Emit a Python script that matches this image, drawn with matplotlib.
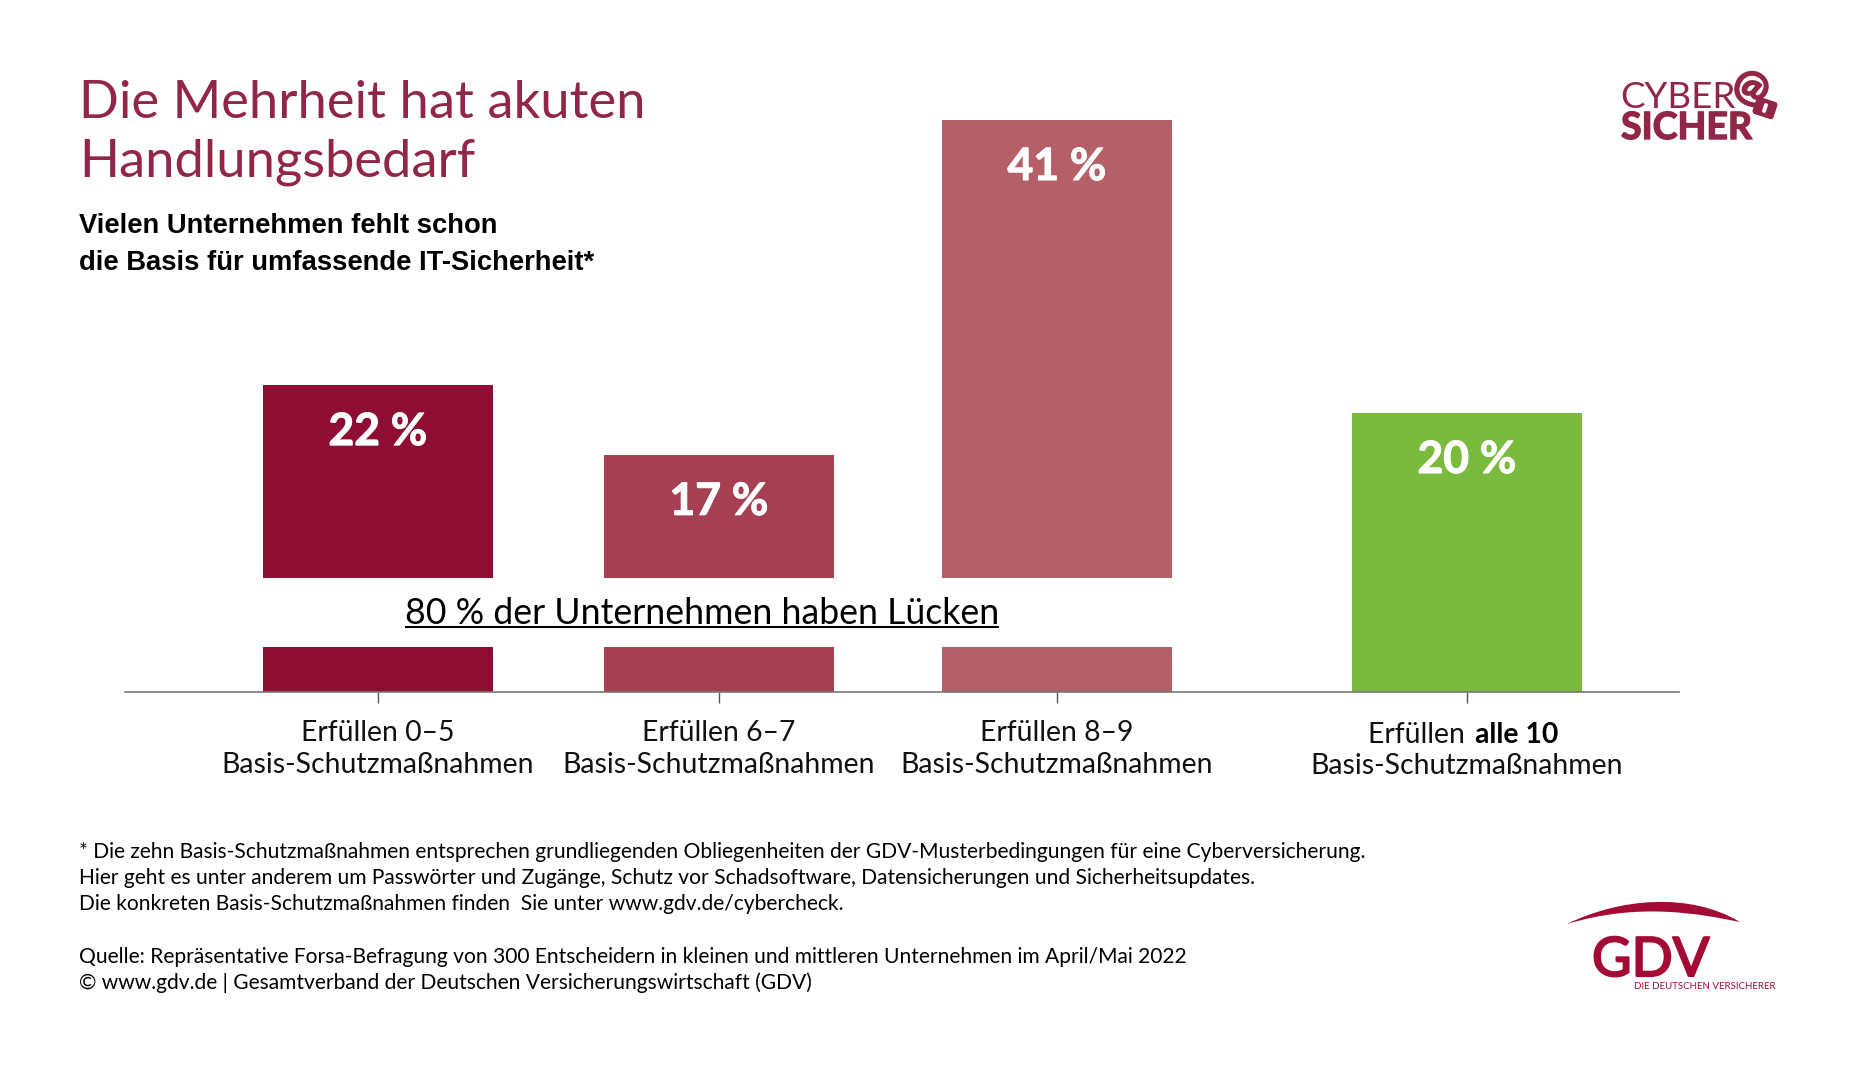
import matplotlib
matplotlib.use("Agg")
import matplotlib.pyplot as plt
import matplotlib.patheffects as pe
from matplotlib.patches import PathPatch, FancyBboxPatch
from matplotlib.path import Path
from matplotlib.transforms import Affine2D

W, H = 1850, 1070
RED = "#922647"
GDV_RED = "#a30b35"

categories = ["Erfüllen 0–5", "Erfüllen 6–7", "Erfüllen 8–9", "Erfüllen alle 10"]
measure_label = "Basis-Schutzmaßnahmen"
shares = [22, 17, 41, 20]
bar_colors = ["#8f0c33", "#a63f52", "#b55f68", "#7aba3c"]
value_labels = ["22 %", "17 %", "41 %", "20 %"]
bar_centers = [378, 719, 1057, 1467]  # pixel layout, the groups are not evenly spaced

title_lines = ["Die Mehrheit hat akuten", "Handlungsbedarf"]
subtitle_lines = ["Vielen Unternehmen fehlt schon", "die Basis für umfassende IT-Sicherheit*"]
note_lines = [
    "* Die zehn Basis-Schutzmaßnahmen entsprechen grundliegenden Obliegenheiten der GDV-Musterbedingungen für eine Cyberversicherung.",
    "Hier geht es unter anderem um Passwörter und Zugänge, Schutz vor Schadsoftware, Datensicherungen und Sicherheitsupdates.",
    "Die konkreten Basis-Schutzmaßnahmen finden  Sie unter www.gdv.de/cybercheck.",
    "Quelle: Repräsentative Forsa-Befragung von 300 Entscheidern in kleinen und mittleren Unternehmen im April/Mai 2022",
    "© www.gdv.de | Gesamtverband der Deutschen Versicherungswirtschaft (GDV)",
]
note_y = [858, 884, 910, 963, 989]

plt.rcParams["font.family"] = ["Lato", "DejaVu Sans"]

fig = plt.figure(figsize=(W / 100, H / 100), dpi=100)
px = Affine2D().scale(1 / W, -1 / H).translate(0, 1) + fig.transFigure  # top-left pixel coords

# axes run from the baseline (y=692) up to the top of the 41 % bar (y=120)
ax = fig.add_axes([125 / W, 1 - 692 / H, (1679 - 125) / W, (692 - 120) / H])
ax.set_xlim(125, 1679)
ax.set_ylim(0, 41)
ax.patch.set_visible(False)
for side in ["top", "left", "right"]:
    ax.spines[side].set_visible(False)
ax.spines["bottom"].set_color("#777777")
ax.spines["bottom"].set_linewidth(1.2)
ax.yaxis.set_visible(False)

ax.bar(bar_centers, shares, width=230, color=bar_colors, zorder=2)
# band cut out of the three red bars for the 80 % caption, green bar stays whole
ax.axhspan(3.25, 8.2, xmin=0, xmax=0.7, color="white", lw=0, zorder=3)

for xc, v, lab in zip(bar_centers, shares, value_labels):
    ax.annotate(lab, xy=(xc, v), xytext=(0, -47), textcoords="offset pixels",
                ha="center", va="center", color="white", fontsize=32, fontweight="bold", zorder=4,
                path_effects=[pe.withStroke(linewidth=0.8, foreground="white")])

ax.set_xticks(bar_centers)
tick_labels = [c + "\n" + measure_label for c in categories[:3]] + [""]
ax.set_xticklabels(tick_labels, fontsize=20.4, linespacing=1.32, color="#111111")
ax.tick_params(axis="x", length=8, width=1, color="#555555", pad=12)

# last category has a bold part, so it is set by hand
fig.text(1472, 735, "Erfüllen ", transform=px, ha="right", va="center", fontsize=20.4, color="#111111")
fig.text(1475, 735, categories[3].split("Erfüllen ")[1], transform=px, ha="left", va="center",
         fontsize=20.4, fontweight="bold", color="black")
fig.text(1467, 766, measure_label, transform=px, ha="center", va="center", fontsize=20.4, color="#111111")

for y, line in zip([118, 177], title_lines):
    fig.text(79, y, line, transform=px, color=RED, fontsize=37.8, va="baseline")
for y, line in zip([233, 270], subtitle_lines):
    fig.text(79, y, line, transform=px, color="black", fontsize=19.7, va="baseline",
             fontweight="bold", family=["Liberation Sans", "DejaVu Sans"])
for y, line in zip(note_y, note_lines):
    fig.text(79, y, line, transform=px, color="black", fontsize=15.15, va="baseline")

fig.text(702, 614, "80 % der Unternehmen haben Lücken", transform=px, ha="center", va="center",
         fontsize=25.7, color="black", zorder=5)
fig.add_artist(plt.Line2D([406, 998], [627, 627], transform=px, color="black", lw=1.5))

# CYBER SICHER logo
fig.text(1620, 108, "CYBER", transform=px, color=RED, fontsize=26.5, va="baseline")
fig.text(1621, 139, "SICHER", transform=px, color=RED, fontsize=27, va="baseline", fontweight="bold",
         path_effects=[pe.withStroke(linewidth=1, foreground=RED)])
fig.text(1751, 88, "@", transform=px, color=RED, fontsize=30, fontweight="bold", ha="center", va="center", rotation=-25,
         path_effects=[pe.withStroke(linewidth=1.2, foreground=RED)])
lock_tf = Affine2D().rotate_deg(18).translate(1765, 108) + px
fig.add_artist(FancyBboxPatch((-11, -9), 22, 18, boxstyle="round,pad=0,rounding_size=3", fc=RED, ec="none",
                              transform=lock_tf))
fig.add_artist(FancyBboxPatch((-2, -5), 4, 10, boxstyle="round,pad=0,rounding_size=2", fc="white", ec="none",
                              transform=lock_tf))

# GDV logo
arc_verts = [(1567, 924), (1620, 898), (1690, 892), (1740, 922), (1700, 914), (1640, 902), (1567, 924)]
arc_codes = [Path.MOVETO, Path.CURVE4, Path.CURVE4, Path.CURVE4, Path.CURVE4, Path.CURVE4, Path.CURVE4]
fig.add_artist(PathPatch(Path(arc_verts, arc_codes), fc=GDV_RED, ec="none", transform=px))
fig.text(1592, 976, "GDV", transform=px, color=GDV_RED, fontsize=39, va="baseline",
         path_effects=[pe.withStroke(linewidth=1.5, foreground=GDV_RED)])
fig.text(1634, 989, "DIE DEUTSCHEN VERSICHERER", transform=px, color=GDV_RED, fontsize=7, va="baseline")

fig.savefig("out.png", dpi=100, facecolor="white")
